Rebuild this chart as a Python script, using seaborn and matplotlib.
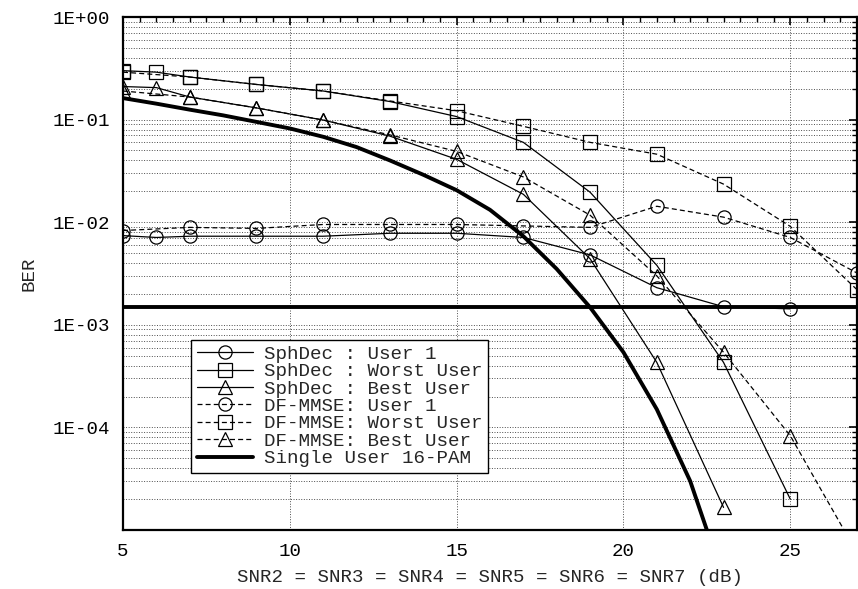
import numpy as np
import matplotlib
matplotlib.use('Agg')
import matplotlib.pyplot as plt
import seaborn as sns
from matplotlib.ticker import FixedLocator, LogLocator, MultipleLocator, NullFormatter, FuncFormatter

# SNR points (dB)
snr_sph = [5, 6, 7, 9, 11, 13, 15, 17, 19, 21, 23, 25]
snr_sph_best = [5, 6, 7, 9, 11, 13, 15, 17, 19, 21, 23]
snr_df = [5, 7, 9, 11, 13, 15, 17, 19, 21, 23, 25, 27]

# Sphere decoder
sph_user1 = [0.0074, 0.0071, 0.0073, 0.0073, 0.0073, 0.0078, 0.0078, 0.0071, 0.0048, 0.0023, 0.0015, 0.00143]
sph_worst = [0.30, 0.29, 0.26, 0.22, 0.19, 0.15, 0.107, 0.060, 0.0196, 0.0038, 0.00043, 2.0e-5]
sph_best = [0.21, 0.205, 0.166, 0.13, 0.099, 0.069, 0.041, 0.0187, 0.0044, 0.00043, 1.66e-5]

# DF-MMSE
df_user1 = [0.0083, 0.0089, 0.0087, 0.0095, 0.0095, 0.0095, 0.0092, 0.0089, 0.0143, 0.0112, 0.0071, 0.0032]
df_worst = [0.29, 0.26, 0.22, 0.19, 0.152, 0.122, 0.086, 0.060, 0.046, 0.0235, 0.0091, 0.0022]
df_best = [0.19, 0.166, 0.13, 0.099, 0.071, 0.049, 0.0276, 0.0117, 0.0030, 0.00054, 8.3e-5, 6e-6]

# Single user 16-PAM reference curve
snr_single = [5, 6, 7, 8, 9, 10, 11, 12, 13, 14, 15, 16, 17, 18, 19, 20, 21, 22, 22.5, 23]
ber_single = [0.162, 0.143, 0.125, 0.110, 0.095, 0.082, 0.068, 0.054, 0.040, 0.029, 0.0205,
              0.0132, 0.0073, 0.0035, 0.00148, 0.00054, 0.00015, 3.0e-5, 1.0e-5, 3e-6]
target_ber = 0.00149

sns.set_style('white')
plt.rcParams['font.family'] = ['Liberation Mono', 'DejaVu Sans Mono']
fs = 13.8

fig = plt.figure(figsize=(8.58, 5.89), dpi=100)
ax = fig.add_axes([123/858, 59/589, 734/858, 513/589])
ax.set_yscale('log')

series = [
    ('SphDec : User 1', snr_sph, sph_user1, 'o', '-'),
    ('SphDec : Worst User', snr_sph, sph_worst, 's', '-'),
    ('SphDec : Best User', snr_sph_best, sph_best, '^', '-'),
    ('DF-MMSE: User 1', snr_df, df_user1, 'o', (0, (4, 2.5))),
    ('DF-MMSE: Worst User', snr_df, df_worst, 's', (0, (4, 2.5))),
    ('DF-MMSE: Best User', snr_df, df_best, '^', (0, (4, 2.5))),
]
for label, x, y, m, ls in series:
    sns.lineplot(x=x, y=y, ax=ax, color='black', lw=0.9, linestyle=ls, marker=m,
                 ms=9.5, mfc='none', mec='black', mew=0.9, label=label,
                 sort=False, estimator=None)

sns.lineplot(x=snr_single, y=ber_single, ax=ax, color='black', lw=2.8,
             label='Single User 16-PAM', sort=False, estimator=None)
ax.axhline(target_ber, color='black', lw=2.8)

ax.set_xlim(5, 27)
ax.set_ylim(1e-5, 1)

ax.xaxis.set_major_locator(MultipleLocator(5))
ax.xaxis.set_minor_locator(MultipleLocator(0.5))
ax.yaxis.set_major_locator(FixedLocator([1, 0.1, 0.01, 1e-3, 1e-4]))
ax.yaxis.set_major_formatter(FuncFormatter(lambda v, p: "1E%+03d" % int(round(np.log10(v)))))
ax.yaxis.set_minor_locator(LogLocator(base=10, subs=range(2, 10), numticks=20))
ax.yaxis.set_minor_formatter(NullFormatter())

ax.tick_params(which='both', direction='in', top=True, right=True, colors='black',
               labelsize=fs, pad=9)
ax.tick_params(which='major', length=6, width=1.2)
ax.tick_params(which='minor', length=3.5, width=1.0)

ax.grid(True, which='both', axis='y', ls=':', color='0.3', lw=0.7)
ax.grid(True, which='major', axis='x', ls=':', color='0.3', lw=0.7)

for s in ax.spines.values():
    s.set_linewidth(1.6)
    s.set_color('black')

ax.set_xlabel('SNR2 = SNR3 = SNR4 = SNR5 = SNR6 = SNR7 (dB)', fontsize=fs, labelpad=7)
ax.set_ylabel('BER', fontsize=fs, labelpad=11)

leg = ax.legend(loc='lower left', bbox_to_anchor=(0.093, 0.111), fontsize=fs,
                frameon=True, fancybox=False, edgecolor='black', framealpha=1,
                borderpad=0.3, labelspacing=0.0, handlelength=2.9, handletextpad=0.6,
                borderaxespad=0)
leg.get_frame().set_linewidth(1.0)

fig.savefig('out.png', dpi=100)
